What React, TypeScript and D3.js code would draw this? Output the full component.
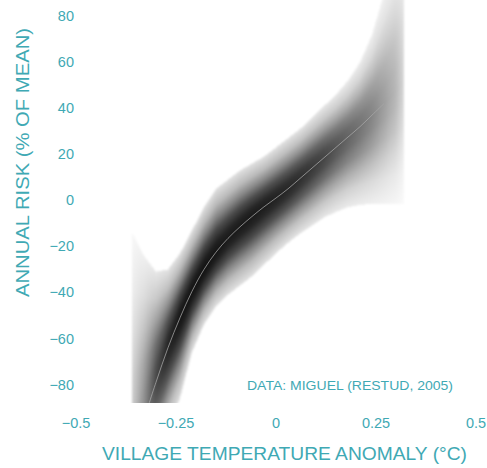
import React from "react";
import * as d3 from "d3";

// Temperature anomaly sample points (°C)
const xs = [-0.36, -0.33, -0.3, -0.27, -0.24, -0.21, -0.18, -0.15, -0.12, -0.09, -0.06, -0.03, 0, 0.03, 0.06, 0.09, 0.12, 0.15, 0.18, 0.21, 0.24, 0.27, 0.3, 0.32];
// Fitted annual risk (% of mean)
const center = [-112, -95, -79, -64, -51, -39.5, -30, -22.5, -16.5, -11.5, -7, -2.8, 1, 5, 9.5, 14, 18.5, 23, 27.5, 32, 37, 42, 47.5, 52];
// Upper envelope of the bootstrap fits
const upper = [-14, -24, -31, -30, -23, -13, -3, 5, 9, 13, 16, 19, 23, 27, 31, 36, 41, 46, 52, 60, 72, 90, 110, 125];
// Lower envelope of the bootstrap fits
const lower = [-135, -128, -118, -100, -86, -66, -54, -46, -41, -37, -33, -28, -23, -18.5, -14.5, -11, -7.5, -5, -3, -2, -1.5, -1.5, -1.5, -1.5];
// Relative density (ink weight) of the fits
const density = [0.22, 0.45, 0.72, 0.86, 0.92, 0.93, 0.93, 0.92, 0.9, 0.9, 0.9, 0.89, 0.87, 0.85, 0.82, 0.78, 0.73, 0.67, 0.61, 0.55, 0.48, 0.38, 0.28, 0.15];

const xTicks = [-0.5, -0.25, 0, 0.25, 0.5];
const xTickLabels = ["\u22120.5", "\u22120.25", "0", "0.25", "0.5"];
const yTicks = [80, 60, 40, 20, 0, -20, -40, -60, -80];
const LINE_END = 0.29;

const TEAL = "#3fa9b4";
const FONT = "'Liberation Sans', Arial, Helvetica, sans-serif";

export default function App() {
  const W = 487, H = 468;
  const x = d3.scaleLinear().domain([-0.5, 0.5]).range([76, 476]);
  const y = d3.scaleLinear().domain([-88, 87]).range([403, 0]);

  const cS = d3.scaleLinear().domain(xs).range(center);
  const uS = d3.scaleLinear().domain(xs).range(upper);
  const lS = d3.scaleLinear().domain(xs).range(lower);
  const dS = d3.scaleLinear().domain(xs).range(density);

  const px0 = Math.round(x(xs[0]));
  const px1 = Math.round(x(xs[xs.length - 1]));
  const cols: JSX.Element[] = [];
  for (let px = px0; px < px1; px++) {
    const xv = x.invert(px + 0.5);
    const yc = y(cS(xv));
    const yu = y(uS(xv));
    const yl = y(lS(xv));
    const dd = dS(xv);
    cols.push(
      <rect key={"u" + px} x={px} y={yu} width={1} height={Math.max(0, yc - yu)} fill="url(#gUp)" fillOpacity={dd} />
    );
    cols.push(
      <rect key={"l" + px} x={px} y={yc} width={1} height={Math.max(0, yl - yc)} fill="url(#gDown)" fillOpacity={dd} />
    );
  }

  const lineData = xs.map((v, i) => [v, center[i]] as [number, number]).filter((d) => d[0] <= LINE_END && d[0] >= -0.33);
  const line = d3
    .line<[number, number]>()
    .x((d) => x(d[0]))
    .y((d) => y(d[1]))
    .curve(d3.curveCatmullRom)(lineData) as string;

  const stops = [
    [0, 1],
    [0.15, 0.95],
    [0.35, 0.78],
    [0.55, 0.52],
    [0.75, 0.3],
    [1, 0.13],
  ];

  return (
    <svg width={W} height={H} style={{ position: "absolute", left: 0, top: 0, background: "#fff" }}>
      <defs>
        <linearGradient id="gUp" x1="0" y1="1" x2="0" y2="0">
          {stops.map(([o, a], i) => (
            <stop key={i} offset={o} stopColor="#000" stopOpacity={a} />
          ))}
        </linearGradient>
        <linearGradient id="gDown" x1="0" y1="0" x2="0" y2="1">
          {stops.map(([o, a], i) => (
            <stop key={i} offset={o} stopColor="#000" stopOpacity={a} />
          ))}
        </linearGradient>
        <clipPath id="plotClip">
          <rect x={60} y={0} width={430} height={403} />
        </clipPath>
        <filter id="soft" x="-5%" y="-5%" width="110%" height="110%">
          <feGaussianBlur stdDeviation="1.1" />
        </filter>
      </defs>
      <rect x={0} y={0} width={W} height={H} fill="#fff" />
      <g clipPath="url(#plotClip)">
        <g filter="url(#soft)" shapeRendering="crispEdges">{cols}</g>
        <path d={line} fill="none" stroke="#a8a8a8" strokeWidth={0.9} strokeOpacity={0.85} />
      </g>
      <g fontFamily={FONT} fill={TEAL} fontSize={14.5}>
        {yTicks.map((t) => (
          <text key={t} x={74} y={y(t) + 5} textAnchor="end">
            {t < 0 ? "\u2212" + Math.abs(t) : String(t)}
          </text>
        ))}
        {xTicks.map((t, i) => (
          <text key={t} x={x(t)} y={428} textAnchor="middle">
            {xTickLabels[i]}
          </text>
        ))}
        <text x={247} y={390} fontSize={13.5} textLength={206} lengthAdjust="spacingAndGlyphs">
          DATA: MIGUEL (RESTUD, 2005)
        </text>
        <text x={284.5} y={460} fontSize={18.5} textAnchor="middle" textLength={365} lengthAdjust="spacingAndGlyphs">
          VILLAGE TEMPERATURE ANOMALY (°C)
        </text>
        <text
          transform="translate(29,162.5) rotate(-90)"
          x={0}
          y={0}
          fontSize={18.5}
          textAnchor="middle"
          textLength={269}
          lengthAdjust="spacingAndGlyphs"
        >
          ANNUAL RISK (% OF MEAN)
        </text>
      </g>
    </svg>
  );
}
